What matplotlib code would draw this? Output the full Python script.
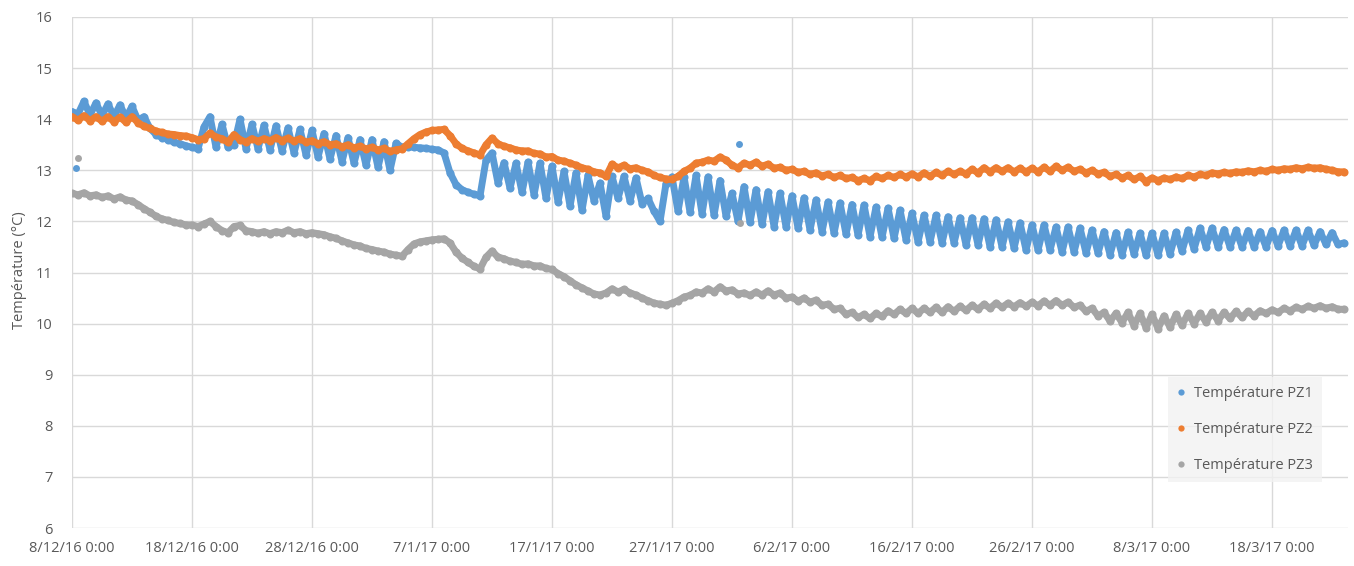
import matplotlib
matplotlib.use("Agg")
import matplotlib.pyplot as plt
import pandas as pd
import numpy as np
from matplotlib.lines import Line2D

# ---------------- data (12-hour samples from 8/12/2016 0:00) ----------------
start_date = "2016-12-08 00:00"
sample_step = "12h"

pz1 = [
    14.15, 14.10, 14.35, 14.08, 14.32, 14.07, 14.30, 14.05, 14.28, 14.03,
    14.25, 13.98, 14.05, 13.82, 13.70, 13.64, 13.60, 13.55, 13.52, 13.48,
    13.45, 13.42, 13.85, 14.05, 13.45, 13.90, 13.45, 13.50, 14.00, 13.42,
    13.90, 13.42, 13.88, 13.40, 13.87, 13.38, 13.83, 13.34, 13.80, 13.30,
    13.78, 13.26, 13.72, 13.22, 13.68, 13.17, 13.64, 13.14, 13.60, 13.10,
    13.60, 13.06, 13.56, 13.00, 13.53, 13.45, 13.46, 13.45, 13.44, 13.43,
    13.41, 13.40, 13.34, 12.95, 12.72, 12.62, 12.57, 12.53, 12.50, 13.20,
    13.34, 12.75, 13.15, 12.65, 13.14, 12.57, 13.16, 12.52, 13.14, 12.45,
    13.08, 12.38, 12.98, 12.30, 12.95, 12.22, 12.90, 12.40, 12.75, 12.10,
    12.88, 12.45, 12.88, 12.40, 12.85, 12.35, 12.45, 12.20, 12.00, 12.74,
    12.87, 12.20, 12.87, 12.18, 12.90, 12.15, 12.87, 12.12, 12.80, 12.10,
    12.55, 12.00, 12.68, 11.98, 12.62, 11.94, 12.58, 11.90, 12.55, 11.89,
    12.50, 11.87, 12.46, 11.83, 12.42, 11.80, 12.38, 11.77, 12.36, 11.75,
    12.33, 11.73, 12.32, 11.70, 12.28, 11.69, 12.26, 11.67, 12.22, 11.64,
    12.16, 11.60, 12.12, 11.60, 12.12, 11.58, 12.09, 11.58, 12.07, 11.54,
    12.07, 11.54, 12.05, 11.50, 12.03, 11.50, 11.99, 11.48, 11.97, 11.44,
    11.93, 11.44, 11.93, 11.44, 11.89, 11.40, 11.89, 11.40, 11.87, 11.38,
    11.83, 11.38, 11.80, 11.35, 11.78, 11.35, 11.79, 11.36, 11.77, 11.34,
    11.77, 11.34, 11.77, 11.36, 11.79, 11.42, 11.83, 11.46, 11.87, 11.50,
    11.87, 11.50, 11.84, 11.50, 11.83, 11.50, 11.82, 11.50, 11.80, 11.50,
    11.82, 11.52, 11.83, 11.52, 11.83, 11.52, 11.83, 11.53, 11.80, 11.55,
    11.78, 11.55, 11.58,
]

pz2 = [
    14.05, 13.98, 14.07, 13.97, 14.05, 13.96, 14.05, 13.95, 14.04, 13.94,
    14.05, 13.93, 13.86, 13.82, 13.77, 13.74, 13.71, 13.70, 13.68, 13.67,
    13.64, 13.60, 13.62, 13.73, 13.65, 13.62, 13.55, 13.70, 13.60, 13.55,
    13.62, 13.57, 13.62, 13.58, 13.64, 13.58, 13.63, 13.57, 13.62, 13.55,
    13.58, 13.52, 13.56, 13.50, 13.52, 13.46, 13.50, 13.44, 13.47, 13.42,
    13.45, 13.40, 13.43, 13.37, 13.40, 13.42, 13.52, 13.62, 13.70, 13.75,
    13.78, 13.79, 13.80, 13.68, 13.52, 13.43, 13.38, 13.34, 13.30, 13.50,
    13.63, 13.52, 13.47, 13.44, 13.40, 13.38, 13.38, 13.33, 13.32, 13.26,
    13.27, 13.20, 13.18, 13.14, 13.10, 13.05, 13.02, 12.97, 12.95, 12.88,
    13.12, 13.05, 13.10, 13.03, 13.05, 13.00, 12.97, 12.90, 12.86, 12.83,
    12.82, 12.88, 12.98, 13.04, 13.14, 13.16, 13.20, 13.18, 13.26, 13.20,
    13.10, 13.05, 13.14, 13.10, 13.16, 13.08, 13.12, 13.04, 13.06, 13.00,
    13.02, 12.96, 12.98, 12.92, 12.95, 12.89, 12.92, 12.86, 12.90, 12.84,
    12.86, 12.80, 12.84, 12.80, 12.88, 12.84, 12.90, 12.86, 12.92, 12.87,
    12.93, 12.87, 12.95, 12.88, 12.96, 12.90, 12.98, 12.92, 12.98, 12.93,
    13.02, 12.95, 13.05, 12.97, 13.05, 12.98, 13.05, 12.97, 13.04, 12.97,
    13.04, 12.97, 13.06, 12.98, 13.08, 13.00, 13.06, 12.98, 13.02, 12.95,
    13.00, 12.93, 12.96, 12.88, 12.92, 12.85, 12.90, 12.82, 12.88, 12.78,
    12.85, 12.80, 12.85, 12.82, 12.87, 12.84, 12.90, 12.87, 12.92, 12.90,
    12.95, 12.93, 12.96, 12.94, 12.97, 12.96, 12.99, 12.97, 13.00, 12.98,
    13.02, 13.00, 13.03, 13.02, 13.05, 13.03, 13.06, 13.04, 13.05, 13.02,
    13.00, 12.97, 12.97,
]

pz3 = [
    12.55, 12.52, 12.56, 12.50, 12.52, 12.47, 12.50, 12.44, 12.48, 12.42,
    12.40, 12.33, 12.25, 12.18, 12.10, 12.05, 12.02, 11.98, 11.96, 11.93,
    11.93, 11.90, 11.95, 12.00, 11.90, 11.82, 11.78, 11.90, 11.92, 11.82,
    11.80, 11.77, 11.80, 11.76, 11.80, 11.78, 11.83, 11.78, 11.80, 11.76,
    11.78, 11.76, 11.74, 11.70, 11.67, 11.62, 11.58, 11.54, 11.52, 11.47,
    11.45, 11.42, 11.40, 11.36, 11.34, 11.32, 11.45, 11.56, 11.60, 11.62,
    11.64, 11.65, 11.66, 11.58, 11.40, 11.28, 11.20, 11.12, 11.07, 11.30,
    11.42, 11.30, 11.27, 11.22, 11.20, 11.16, 11.17, 11.13, 11.13, 11.08,
    11.06, 10.98, 10.92, 10.84, 10.76, 10.70, 10.64, 10.58, 10.56, 10.60,
    10.68, 10.62, 10.67, 10.60, 10.56, 10.50, 10.45, 10.40, 10.38, 10.36,
    10.40, 10.45, 10.52, 10.55, 10.62, 10.60, 10.68, 10.62, 10.72, 10.64,
    10.66, 10.58, 10.60, 10.55, 10.62, 10.56, 10.64, 10.56, 10.60, 10.50,
    10.52, 10.44, 10.50, 10.42, 10.46, 10.36, 10.38, 10.28, 10.30, 10.18,
    10.22, 10.12, 10.18, 10.10, 10.20, 10.14, 10.25, 10.18, 10.28, 10.20,
    10.30, 10.20, 10.30, 10.22, 10.32, 10.22, 10.33, 10.24, 10.34, 10.26,
    10.36, 10.28, 10.38, 10.30, 10.40, 10.32, 10.40, 10.33, 10.41, 10.34,
    10.42, 10.35, 10.44, 10.36, 10.45, 10.36, 10.42, 10.32, 10.36, 10.24,
    10.30, 10.15, 10.22, 10.05, 10.20, 10.02, 10.22, 9.96, 10.20, 9.92,
    10.18, 9.90, 10.15, 9.93, 10.18, 9.97, 10.20, 10.00, 10.20, 10.03,
    10.22, 10.06, 10.22, 10.10, 10.24, 10.12, 10.24, 10.15, 10.25, 10.20,
    10.27, 10.22, 10.30, 10.25, 10.32, 10.28, 10.34, 10.30, 10.35, 10.30,
    10.33, 10.28, 10.28,
]

# isolated readings
pz1_outlier_times = ["2016-12-08 08:00", "2017-02-01 14:00"]
pz1_outlier_values = [13.05, 13.51]
pz3_outlier_times = ["2016-12-08 12:00", "2017-02-01 16:00"]
pz3_outlier_values = [13.24, 11.97]

series_names = ["Température PZ1", "Température PZ2", "Température PZ3"]
series_colors = ["#5B9BD5", "#ED7D31", "#A5A5A5"]

tick_dates = pd.date_range("2016-12-08", periods=11, freq="10D")
y_ticks = list(range(6, 17))
y_label = "Température (°C)"

# ---------------- figure ----------------
plt.rcParams["font.family"] = ["Open Sans", "DejaVu Sans"]
W, H = 1354, 566
fig = plt.figure(figsize=(W / 100, H / 100), dpi=100)
ax = fig.add_axes([72 / W, 38 / H, 1276 / W, 511 / H])

def times(n):
    return pd.date_range(start_date, periods=n, freq=sample_step)

all_series = [pz1, pz2, pz3]
for vals, name, col in zip(all_series, series_names, series_colors):
    t = times(len(vals))
    ax.plot(t, vals, "-", color=col, lw=5.0, solid_joinstyle="round",
            solid_capstyle="round", zorder=3)
    ax.plot(t, vals, "o", color=col, ms=5.8, mew=0, zorder=3)

ax.plot(pd.to_datetime(pz1_outlier_times), pz1_outlier_values, "o",
        color=series_colors[0], ms=5.0, mew=0, zorder=3)
ax.plot(pd.to_datetime(pz3_outlier_times), pz3_outlier_values, "o",
        color=series_colors[2], ms=5.0, mew=0, zorder=4)

x0 = pd.Timestamp(start_date)
ax.set_xlim(x0, x0 + pd.Timedelta(days=106.33))
ax.set_ylim(6, 16)
ax.set_xticks(tick_dates)
ax.set_xticklabels([f"{d.day}/{d.month}/{d:%y} 0:00" for d in tick_dates])
ax.set_yticks(y_ticks)
ax.set_yticklabels([str(v) for v in y_ticks])

ax.grid(True, color="#d9d9d9", lw=1.0, zorder=0)
ax.set_axisbelow(True)
for s in ax.spines.values():
    s.set_visible(False)
ax.tick_params(axis="both", length=0, labelsize=10.5, colors="#595959")
ax.tick_params(axis="y", pad=14)
ax.tick_params(axis="x", pad=9)

fig.text(20 / W, 1 - 270 / H, y_label, rotation=90, ha="center", va="center",
         fontsize=10.5, color="#595959")

handles = [Line2D([], [], ls="none", marker="o", ms=4.5, mew=0, color=c)
           for c in series_colors]
leg = ax.legend(handles, series_names, loc="upper left",
                bbox_to_anchor=((1168 - 72) / 1276, (528 - 377) / 511),
                frameon=True, fancybox=False, fontsize=10.5,
                labelcolor="#595959", handlelength=0.6, handletextpad=0.6,
                labelspacing=1.45, borderpad=0.6, borderaxespad=0)
leg.get_frame().set_facecolor("#f2f2f2")
leg.get_frame().set_edgecolor("none")

fig.savefig("out.png", dpi=100, facecolor="white")
